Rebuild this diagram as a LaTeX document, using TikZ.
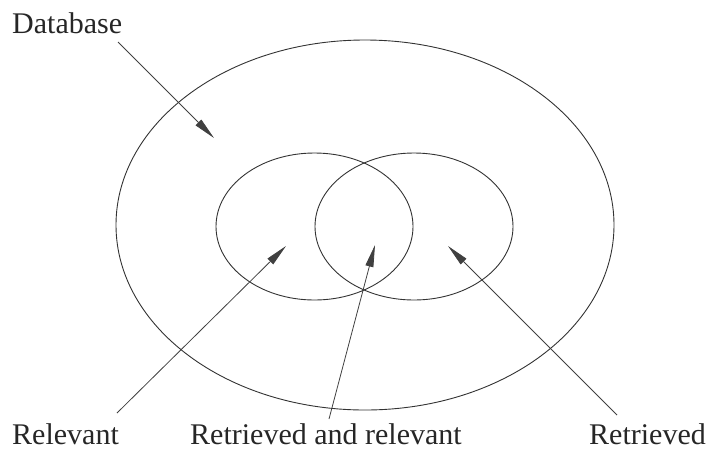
\documentclass[tikz,border=0pt]{standalone}
\usepackage{fontspec}
\setmainfont{Liberation Serif}
\usetikzlibrary{shapes.geometric,arrows.meta}
\begin{document}
\begin{tikzpicture}[x=1pt,y=-1pt,
  ring/.style={draw, ellipse, line width=0.9pt, inner sep=0pt, outer sep=0pt, color=black!80},
  lbl/.style={font=\fontsize{30}{36}\selectfont, inner sep=0pt, anchor=base west, text=black!85},
  pointer/.style={line width=0.8pt, color=black!75, -{Triangle[length=22pt,width=8pt]}}]
\useasboundingbox (0,0) rectangle (709,451);
\node[ring, minimum width=498pt, minimum height=370pt] (db) at (365,225) {};
\node[ring, minimum width=197pt, minimum height=147pt] (rel) at (314.5,226.5) {};
\node[ring, minimum width=198pt, minimum height=147pt] (ret) at (414,226.5) {};
\node[lbl] (tdb) at (12,33) {Database};
\node[lbl] (trel) at (12,444) {Relevant};
\node[lbl] (tboth) at (190,444) {Retrieved and relevant};
\node[lbl] (tret) at (589,444) {Retrieved};
\coordinate (sdb) at (118,42);
\coordinate (edb) at (214,138);
\coordinate (srel) at (117,413);
\coordinate (erel) at (286,246);
\coordinate (sboth) at (329,419);
\coordinate (eboth) at (375,245);
\coordinate (sret) at (617,415);
\coordinate (eret) at (448,246);
\draw[pointer] (sdb) -- (edb);
\draw[pointer] (srel) -- (erel);
\draw[pointer] (sboth) -- (eboth);
\draw[pointer] (sret) -- (eret);
\end{tikzpicture}
\end{document}
